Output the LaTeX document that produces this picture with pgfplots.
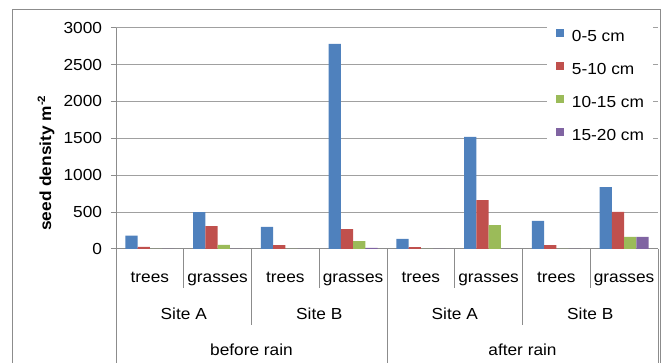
\documentclass[border=0pt]{standalone}
\usepackage{fontspec}
\setmainfont{Liberation Sans}[FakeStretch=1.08]
\usepackage{pgfplots}
\pgfplotsset{compat=1.18}
\definecolor{c1}{HTML}{4F81BD}
\definecolor{c2}{HTML}{C0504D}
\definecolor{c3}{HTML}{9BBB59}
\definecolor{c4}{HTML}{8064A2}
\definecolor{gridc}{HTML}{A0A0A0}
\definecolor{axisc}{HTML}{8C8C8C}
\begin{document}
\fontsize{12}{14}\selectfont
\begin{tikzpicture}
\begin{axis}[
  at={(87pt,85.5pt)}, anchor=south west,
  scale only axis, width=406.5pt, height=166pt,
  xmin=0, xmax=8, ymin=0, ymax=3000,
  ybar=0pt, bar width=9.2pt,
  axis x line*=bottom, axis y line*=left,
  axis line style={-, draw=axisc, line width=0.75pt},
  ytick={0,500,...,3000}, ymajorgrids,
  grid style={draw=gridc, line width=0.75pt},
  tick align=outside, major tick length=3.75pt,
  ytick style={draw=axisc, line width=0.75pt},
  xtick={0.5,1.5,...,7.5},
  xticklabels={trees,grasses,trees,grasses,trees,grasses,trees,grasses},
  xtick style={draw=none},
  xticklabel style={anchor=base, yshift=-21.55pt},
  yticklabel style={xshift=-2.5pt},
  /pgf/number format/assume math mode=true,
  /pgf/number format/1000 sep={},
  ylabel={\bfseries seed density m\textsuperscript{-2}},
  ylabel style={at={(axis description cs:-0.129,0.389)}, anchor=center},
  legend style={at={(axis description cs:0.7952,1.0303)}, anchor=north west,
    draw=none, fill=white, inner xsep=6.75pt, inner ysep=6pt,
    row sep=15.5pt, column sep=6pt,
    nodes={inner sep=0pt, text height=9pt, text depth=0pt},
    cells={anchor=west}},
  legend image code/.code={\fill[#1,draw=none] (0pt,-1pt) rectangle (5.8pt,4.8pt);},
]
\addplot[fill=c1, draw=none] coordinates {(0.5,180) (1.5,500) (2.5,300) (3.5,2780) (4.5,136) (5.5,1520) (6.5,380) (7.5,840)};
\addplot[fill=c2, draw=none] coordinates {(0.5,28) (1.5,310) (2.5,54) (3.5,270) (4.5,27) (5.5,664) (6.5,54) (7.5,502)};
\addplot[fill=c3, draw=none] coordinates {(0.5,0) (1.5,55) (2.5,0) (3.5,108) (4.5,0) (5.5,325) (6.5,0) (7.5,163)};
\addplot[fill=c4, draw=none] coordinates {(0.5,0) (1.5,0) (2.5,0) (3.5,14) (4.5,0) (5.5,0) (6.5,0) (7.5,163)};
\legend{0-5 cm,5-10 cm,10-15 cm,15-20 cm}
\end{axis}
% category separators
\begin{scope}[draw=axisc, line width=0.75pt]
\foreach \x in {137.81,239.44,341.06,442.69} \draw (\x pt,85.5pt) -- (\x pt,56.25pt);
\foreach \x in {188.63,391.88} \draw (\x pt,85.5pt) -- (\x pt,28.5pt);
\foreach \x in {87,290.25,493.5} \draw (\x pt,85.5pt) -- (\x pt,-5pt);
\end{scope}
\node[anchor=base] at (137.81pt,32.25pt) {Site A};
\node[anchor=base] at (239.44pt,32.25pt) {Site B};
\node[anchor=base] at (341.06pt,32.25pt) {Site A};
\node[anchor=base] at (442.69pt,32.25pt) {Site B};
\node[anchor=base] at (188.63pt,5.25pt) {before rain};
\node[anchor=base] at (391.88pt,5.25pt) {after rain};
% outer frame
\draw[axisc, line width=0.75pt] (9.5pt,-5pt) rectangle (495.5pt,265.3pt);
\pgfresetboundingbox
\path (0,0) rectangle (496.5pt,272.25pt);
\end{tikzpicture}
\end{document}
